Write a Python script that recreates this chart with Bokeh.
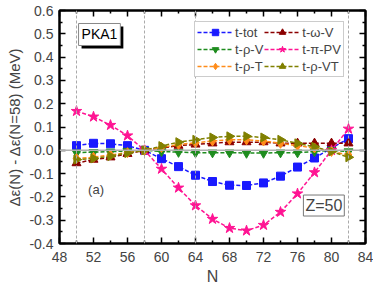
import math
from bokeh.plotting import figure
from bokeh.models import (LinearAxis, Range1d, Span, Label, Legend, LegendItem,
                          FixedTicker, NumeralTickFormatter)
from bokeh.embed import file_html
from bokeh.resources import INLINE

N = [50, 52, 54, 56, 58, 60, 62, 64, 66, 68, 70, 72, 74, 76, 78, 80, 82]
t_tot = [0.02, 0.03, 0.028, 0.02, 0.0, -0.036, -0.07, -0.107, -0.134, -0.15, -0.151,
         -0.14, -0.111, -0.072, -0.033, 0.01, 0.05]
t_omega_V = [-0.055, -0.04, -0.03, -0.015, 0.0, 0.01, 0.02, 0.025, 0.03, 0.035, 0.035,
             0.035, 0.03, 0.03, 0.03, 0.03, 0.03]
t_rho_V = [-0.01, -0.008, -0.006, -0.003, 0.0, -0.005, -0.008, -0.01, -0.01, -0.01, -0.012,
           -0.012, -0.01, -0.01, -0.005, 0.0, -0.005]
t_pi_PV = [0.168, 0.144, 0.108, 0.063, 0.0, -0.08, -0.161, -0.237, -0.295, -0.334, -0.345,
           -0.321, -0.265, -0.186, -0.095, 0.0, 0.092]
t_rho_T = [-0.035, -0.03, -0.02, -0.01, 0.0, 0.012, 0.025, 0.032, 0.04, 0.045, 0.045,
           0.04, 0.03, 0.02, 0.01, -0.005, -0.02]
t_rho_VT = [-0.04, -0.035, -0.025, -0.012, 0.0, 0.018, 0.035, 0.045, 0.055, 0.06, 0.06,
            0.055, 0.045, 0.03, 0.015, -0.005, -0.03]
vlines = [50, 58, 64, 82]
x_ticks = [48, 52, 56, 60, 64, 68, 72, 76, 80, 84]
x_minor = [50, 54, 58, 62, 66, 70, 74, 78, 82]
y_ticks = [-0.4, -0.3, -0.2, -0.1, 0.0, 0.1, 0.2, 0.3, 0.4, 0.5, 0.6]
y_minor = [-0.35, -0.25, -0.15, -0.05, 0.05, 0.15, 0.25, 0.35, 0.45, 0.55]

FONT = "Liberation Sans"

p = figure(frame_width=306, frame_height=233, output_backend="svg", toolbar_location=None,
           x_range=Range1d(48, 84), y_range=Range1d(-0.4, 0.6),
           min_border_left=59, min_border_right=8, min_border_top=10, min_border_bottom=41,
           x_axis_label="N", y_axis_label="Δε(N) - Δε(N=58) (MeV)")
p.grid.visible = False
p.outline_line_color = "black"
p.outline_line_width = 2
p.background_fill_color = "white"

def style_axis(ax, labels=True):
    ax.axis_line_width = 2
    ax.major_tick_in = 6
    ax.major_tick_out = 0
    ax.minor_tick_in = 3
    ax.minor_tick_out = 0
    ax.major_tick_line_width = 1.5
    ax.minor_tick_line_width = 1.5
    ax.major_label_text_font = FONT
    ax.major_label_text_font_size = "14px" if labels else "0px"
    ax.axis_label_text_font = FONT
    ax.axis_label_text_font_style = "normal"
    ax.axis_label_text_font_size = "15px"

def xtick():
    return FixedTicker(ticks=x_ticks, minor_ticks=x_minor)

def ytick():
    return FixedTicker(ticks=y_ticks, minor_ticks=y_minor)

p.xaxis.ticker = xtick()
p.yaxis.ticker = ytick()
p.yaxis.formatter = NumeralTickFormatter(format="0.0")
for ax in p.xaxis + p.yaxis:
    style_axis(ax)
p.xaxis.major_label_standoff = 8
p.yaxis.major_label_standoff = 6
p.xaxis.axis_label_standoff = 3
p.xaxis.axis_label_text_font_size = "16px"
p.yaxis.axis_label_standoff = 3

top = LinearAxis(ticker=xtick())
right = LinearAxis(ticker=ytick())
for ax in (top, right):
    style_axis(ax, labels=False)
    ax.major_label_standoff = 0
    ax.major_label_text_alpha = 0
p.add_layout(top, "above")
p.add_layout(right, "right")

for v in vlines:
    p.add_layout(Span(location=v, dimension="height", line_color="#aaaaaa",
                      line_dash="3 2", line_width=1))
p.add_layout(Span(location=0, dimension="width", line_color="#b0b0b0", line_width=1.5))

series = [
    ("t-tot", t_tot, "#1a1aff", "square", 0, 8),
    ("t-ω-V", t_omega_V, "#8b0000", "triangle", 0, 9),
    ("t-ρ-V", t_rho_V, "#1e8c1e", "inverted_triangle", 0, 9),
    ("t-π-PV", t_pi_PV, "#ff1493", "star", 0, 11),
    ("t-ρ-T", t_rho_T, "#ff8c1a", "diamond", 0, 10),
    ("t-ρ-VT", t_rho_VT, "#808000", "triangle", -math.pi / 2, 9),
]
items = {}
for name, ys, col, mk, ang, sz in series:
    l = p.line(N, ys, line_color=col, line_dash="4 2", line_width=1.5)
    s = p.scatter(N, ys, marker=mk, angle=ang, size=sz, fill_color=col, line_color=col)
    items[name] = LegendItem(label=name, renderers=[l, s])

order = ["t-tot", "t-ρ-V", "t-ρ-T", "t-ω-V", "t-π-PV", "t-ρ-VT"]
legend = Legend(items=[items[k] for k in order], ncols=2,
                location=(135, 166), label_text_font=FONT, label_text_font_size="13px",
                glyph_width=36, glyph_height=16, label_standoff=2, spacing=1,
                padding=2, margin=0, border_line_color="#999999", border_line_width=1,
                label_height=14, background_fill_alpha=1)
p.add_layout(legend, "center")

shadow = Label(x=52.7, y=0.497, x_offset=3, y_offset=-3, text="PKA1", text_font=FONT,
               text_font_size="14px", text_color="black", text_align="center",
               text_baseline="middle", background_fill_color="black",
               padding=3)
p.add_layout(shadow)
p.add_layout(Label(x=52.7, y=0.497, text="PKA1", text_font=FONT, text_font_size="14px",
                   text_color="black", text_align="center", text_baseline="middle",
                   background_fill_color="white", border_line_color="#888888",
                   border_line_width=1, padding=3))
p.add_layout(Label(x=52.3, y=-0.17, text="(a)", text_font=FONT, text_font_size="13px",
                   text_align="center", text_baseline="middle"))
p.add_layout(Label(x=79.1, y=-0.237, text="Z=50", text_font=FONT, text_font_size="16px",
                   text_align="center", text_baseline="middle",
                   background_fill_color="white", border_line_color="#777777",
                   border_line_width=1, padding=2))

open("out.html", "w").write(file_html(p, INLINE))
